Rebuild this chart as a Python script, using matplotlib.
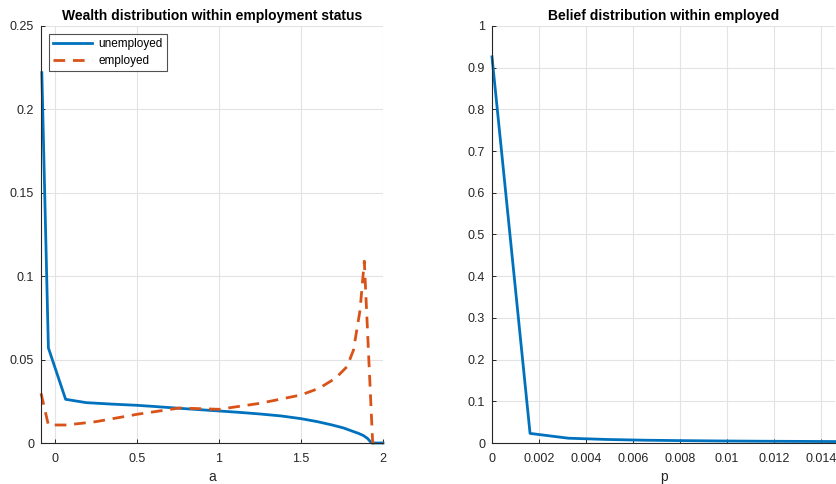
import matplotlib
matplotlib.use("Agg")
import matplotlib.pyplot as plt
from matplotlib.ticker import FuncFormatter

plt.rcParams['font.family'] = ['Liberation Sans', 'DejaVu Sans']

# wealth grid and densities
a_unemp = [-0.08, -0.04, 0.065, 0.19, 0.35, 0.5, 0.62, 0.76, 0.88, 1.0, 1.12, 1.25, 1.38,
           1.5, 1.6, 1.69, 1.76, 1.81, 1.85, 1.88, 1.905, 1.93, 2.0]
g_unemp = [0.222, 0.057, 0.0262, 0.0242, 0.0233, 0.0226, 0.0218, 0.0208, 0.0200, 0.0192,
           0.0184, 0.0174, 0.0162, 0.0146, 0.0128, 0.0108, 0.0090, 0.0072, 0.0058, 0.0045,
           0.0028, 0.0, 0.0]
a_emp = [-0.085, -0.04, 0.07, 0.25, 0.5, 0.76, 1.0, 1.25, 1.5, 1.61, 1.71, 1.78, 1.82,
         1.86, 1.886, 1.937, 2.0]
g_emp = [0.0298, 0.0108, 0.0108, 0.0128, 0.0172, 0.0210, 0.0202, 0.0238, 0.0288, 0.0328,
         0.0388, 0.0457, 0.0557, 0.0797, 0.109, 0.0, 0.0]

# belief grid and density within employed
p_grid = [0.0, 0.00162, 0.00325, 0.00487, 0.0065, 0.0081, 0.0097, 0.0114, 0.0130, 0.0146]
g_belief = [0.926, 0.023, 0.0115, 0.0085, 0.0067, 0.0057, 0.0049, 0.0043, 0.0039, 0.0035]

blue = '#0072BD'
orange = '#D95319'
axcol = '#262626'
fmt = FuncFormatter(lambda v, pos: '%g' % v)


def style_axes(ax):
    for side in ['top', 'right']:
        ax.spines[side].set_visible(False)
    for side in ['left', 'bottom']:
        ax.spines[side].set_color(axcol)
        ax.spines[side].set_linewidth(0.8)
    ax.tick_params(direction='in', length=3, width=0.7, colors=axcol,
                   labelsize=9)
    ax.tick_params(axis='x', pad=7)
    ax.tick_params(axis='y', pad=5)
    ax.grid(True, color='#e3e3e3', linewidth=0.8)
    ax.set_axisbelow(True)
    ax.xaxis.set_major_formatter(fmt)
    ax.yaxis.set_major_formatter(fmt)


fig = plt.figure(figsize=(8.37, 4.84), dpi=100)
ax1 = fig.add_axes([0.049, 0.0847, 0.4086, 0.8616])
ax2 = fig.add_axes([0.5878, 0.0847, 0.4098, 0.8616])

ax1.plot(a_unemp, g_unemp, color=blue, lw=2, label='unemployed', clip_on=False)
ax1.plot(a_emp, g_emp, color=orange, lw=2, dashes=(4.2, 2.8), label='employed', clip_on=False)
ax1.set_xlim(-0.085, 2.0)
ax1.set_ylim(0, 0.25)
ax1.set_xticks([0, 0.5, 1, 1.5, 2])
ax1.set_yticks([0, 0.05, 0.1, 0.15, 0.2, 0.25])
style_axes(ax1)
ax1.set_title('Wealth distribution within employment status', fontsize=10,
              fontweight='bold', pad=4)
ax1.set_xlabel('a', fontsize=10, color=axcol, labelpad=4)
leg = ax1.legend(loc='upper left', fontsize=8.5, frameon=True, fancybox=False,
                 handlelength=3.3, handletextpad=0.5, borderaxespad=0.7,
                 borderpad=0.35, labelspacing=0.4)
leg.get_frame().set_edgecolor(axcol)
leg.get_frame().set_linewidth(0.8)

ax2.plot(p_grid, g_belief, color=blue, lw=2, clip_on=False)
ax2.set_xlim(0, 0.0146)
ax2.set_ylim(0, 1)
ax2.set_xticks([0, 0.002, 0.004, 0.006, 0.008, 0.01, 0.012, 0.014])
ax2.set_yticks([0, 0.1, 0.2, 0.3, 0.4, 0.5, 0.6, 0.7, 0.8, 0.9, 1])
style_axes(ax2)
ax2.set_title('Belief distribution within employed', fontsize=10,
              fontweight='bold', pad=4)
ax2.set_xlabel('p', fontsize=10, color=axcol, labelpad=4)

fig.savefig('out.png', dpi=100)
